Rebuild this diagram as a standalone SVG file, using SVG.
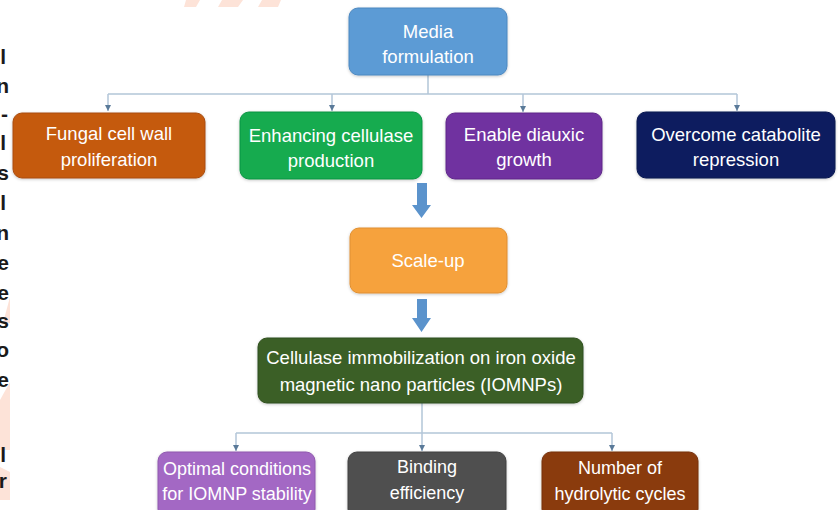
<svg xmlns="http://www.w3.org/2000/svg" width="838" height="510" viewBox="0 0 838 510">
  <style>
    .box { stroke-width: 1; filter: url(#sh); }
    .lbl { font-family: "Liberation Sans", Arial, sans-serif; font-size: 18.5px; fill: #ffffff; text-anchor: middle; }
    .sm { font-size: 18px; }
    .frag { font-family: "Liberation Sans", Arial, sans-serif; font-size: 21px; font-weight: bold; fill: #1a1a1a; text-anchor: end; }
    .wm { fill: #fde3d8; }
    .conn { fill: none; stroke: #b3c6d8; stroke-width: 1.5; }
    .block { fill: #5b93cc; }
  </style>
  <defs>
    <filter id="sh" x="-10%" y="-20%" width="120%" height="140%">
      <feDropShadow dx="0" dy="1" stdDeviation="1.5" flood-color="#000" flood-opacity="0.22"/>
    </filter>
    <marker id="ah" viewBox="0 0 10 10" refX="10" refY="5" markerWidth="6" markerHeight="6" markerUnits="userSpaceOnUse" orient="auto">
      <path d="M0,0 L10,5 L0,10 Z" fill="#5a7a99"/>
    </marker>
  </defs>
  <rect width="838" height="510" fill="#ffffff"/>

  <!-- faint watermark shapes -->
  <g id="watermark">
    <polygon class="wm" points="186,0 200,0 196,7 184,7"/>
    <polygon class="wm" points="222,0 243,0 238,7 218,7"/>
    <polygon class="wm" points="262,0 281,0 278,7 258,7"/>
    <polygon class="wm" points="10,297 10,323 3,323"/>
    <polygon class="wm" points="10,382 10,450 0,450 0,400"/>
    <polygon class="wm" points="0,467 10,472 10,500 0,500"/>
  </g>

  <!-- cropped text fragments at left edge -->
  <g id="left-fragments">
    <text class="frag" x="6" y="64">l</text>
    <text class="frag" x="9" y="93">n</text>
    <text class="frag" x="8" y="121">-</text>
    <text class="frag" x="6" y="150">l</text>
    <text class="frag" x="9" y="180">s</text>
    <text class="frag" x="6" y="210">l</text>
    <text class="frag" x="9" y="240">n</text>
    <text class="frag" x="9" y="270">e</text>
    <text class="frag" x="9" y="300">e</text>
    <text class="frag" x="9" y="328">s</text>
    <text class="frag" x="9" y="357">o</text>
    <text class="frag" x="9" y="387">e</text>
    <text class="frag" x="6" y="462">l</text>
    <text class="frag" x="7" y="488">r</text>
  </g>

  <!-- connectors -->
  <g id="connectors">
    <path class="conn" d="M428,75 V94 M108,94 H737"/>
    <path class="conn" d="M108,94 V111" marker-end="url(#ah)"/>
    <path class="conn" d="M332,94 V111" marker-end="url(#ah)"/>
    <path class="conn" d="M523,94 V112" marker-end="url(#ah)"/>
    <path class="conn" d="M737,94 V111" marker-end="url(#ah)"/>
    <polygon class="block" points="417,183 427,183 427,205 431,205 421.5,218 412,205 417,205"/>
    <polygon class="block" points="417,299 427,299 427,318 431,318 421.5,332 412,318 417,318"/>
    <path class="conn" d="M422,403 V433 M236,433 H612"/>
    <path class="conn" d="M236,433 V451" marker-end="url(#ah)"/>
    <path class="conn" d="M422,433 V451" marker-end="url(#ah)"/>
    <path class="conn" d="M612,433 V451" marker-end="url(#ah)"/>
  </g>

  <g id="media">
    <rect class="box" x="349" y="8" width="158" height="67" rx="9" fill="#5b9bd5" stroke="#4d88c0"/>
    <text class="lbl" x="428" y="38">Media</text>
    <text class="lbl" x="428" y="63">formulation</text>
  </g>
  <g id="fungal">
    <rect class="box" x="13" y="113" width="192" height="65" rx="9" fill="#c55a11" stroke="#a94c0e"/>
    <text class="lbl" x="109" y="140">Fungal cell wall</text>
    <text class="lbl" x="109" y="166">proliferation</text>
  </g>
  <g id="enhancing">
    <rect class="box" x="240" y="112" width="182" height="67" rx="9" fill="#12ab50" stroke="#0f9444"/>
    <text class="lbl" x="331" y="142">Enhancing cellulase</text>
    <text class="lbl" x="331" y="167">production</text>
  </g>
  <g id="diauxic">
    <rect class="box" x="446" y="113" width="156" height="66" rx="9" fill="#7030a0" stroke="#5f2889"/>
    <text class="lbl" x="524" y="141">Enable diauxic</text>
    <text class="lbl" x="524" y="166">growth</text>
  </g>
  <g id="catabolite">
    <rect class="box" x="637" y="112" width="198" height="66" rx="9" fill="#0b1f5e" stroke="#071650"/>
    <text class="lbl" x="736" y="141">Overcome catabolite</text>
    <text class="lbl" x="736" y="166">repression</text>
  </g>
  <g id="scaleup">
    <rect class="box" x="350" y="228" width="157" height="65" rx="9" fill="#f6a23e" stroke="#e08f30"/>
    <text class="lbl" x="428" y="267">Scale-up</text>
  </g>
  <g id="immobilization">
    <rect class="box" x="258" y="338" width="325" height="65" rx="9" fill="#3a5e25" stroke="#2f4f1e"/>
    <text class="lbl" x="421" y="364">Cellulase immobilization on iron oxide</text>
    <text class="lbl" x="421" y="391">magnetic nano particles (IOMNPs)</text>
  </g>
  <g id="optimal">
    <rect class="box" x="158" y="452" width="157" height="66" rx="9" fill="#a368c4" stroke="#8f58ae"/>
    <text class="lbl sm" x="237" y="475">Optimal conditions</text>
    <text class="lbl sm" x="237" y="500">for IOMNP stability</text>
  </g>
  <g id="binding">
    <rect class="box" x="348" y="452" width="158" height="66" rx="9" fill="#4f4f4f" stroke="#404040"/>
    <text class="lbl sm" x="427" y="473">Binding</text>
    <text class="lbl sm" x="427" y="499">efficiency</text>
  </g>
  <g id="hydrolytic">
    <rect class="box" x="542" y="452" width="156" height="66" rx="9" fill="#8a3a0e" stroke="#76310b"/>
    <text class="lbl sm" x="620" y="474">Number of</text>
    <text class="lbl sm" x="620" y="500">hydrolytic cycles</text>
  </g>
</svg>
